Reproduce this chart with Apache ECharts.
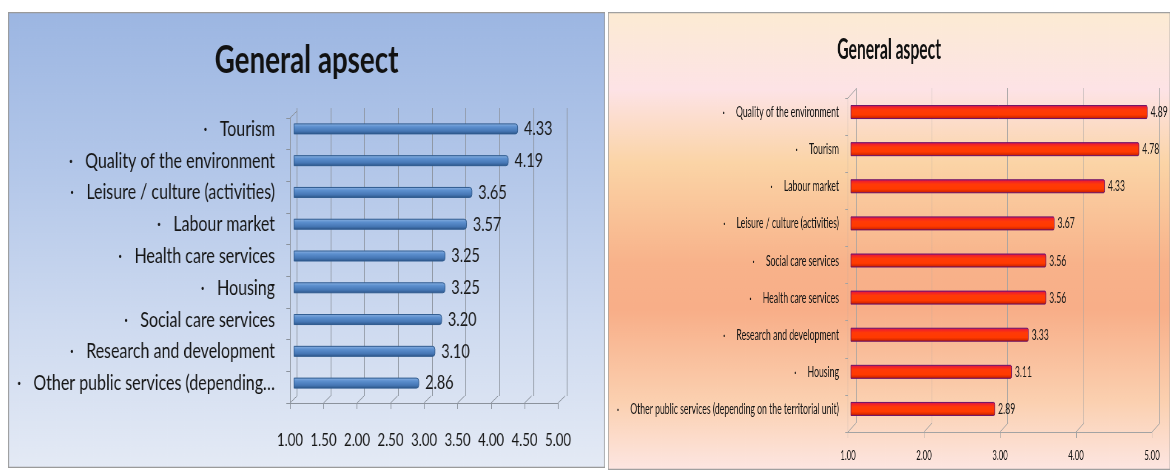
<!DOCTYPE html>
<html><head><meta charset="utf-8">
<script src="https://cdn.jsdelivr.net/npm/echarts@6/dist/echarts.min.js"></script>
<style>
html,body{margin:0;padding:0;background:#fff;width:1170px;height:470px;overflow:hidden;}
#left{position:absolute;left:8px;top:12px;width:807px;height:456px;transform:scaleX(0.74);transform-origin:0 0;}
#right{position:absolute;left:608px;top:12px;width:1004px;height:458px;transform:scaleX(0.56);transform-origin:0 0;}
</style></head><body>
<div id="left"></div><div id="right"></div>
<script>
const leftTitle = 'General apsect';
const leftCategories = ['Tourism','Quality of the environment','Leisure / culture (activities)','Labour market','Health care services','Housing','Social care services','Research and development','Other public services (depending\u2026'];
const leftValues = [4.33, 4.19, 3.65, 3.57, 3.25, 3.25, 3.20, 3.10, 2.86];
const leftTicks = [1, 1.5, 2, 2.5, 3, 3.5, 4, 4.5, 5];

const rightTitle = 'General aspect';
const rightCategories = ['Quality of the environment','Tourism','Labour market','Leisure / culture (activities)','Social care services','Health care services','Research and development','Housing','Other public services (depending on the territorial unit)'];
const rightValues = [4.89, 4.78, 4.33, 3.67, 3.56, 3.56, 3.33, 3.11, 2.89];
const rightTicks = [1, 2, 3, 4, 5];

const FONT = 'Lato';

function build(c) {
  const grids = [
    Object.assign({outerBoundsMode:'none', containLabel:false}, c.front),
    Object.assign({outerBoundsMode:'none', containLabel:false}, c.back),
    Object.assign({outerBoundsMode:'none', containLabel:false}, c.bars)
  ];
  const xAxis = [
    {gridIndex:0, type:'value', min:c.ticks[0], max:c.ticks[c.ticks.length-1], interval:c.interval,
     axisLine:{show:true, lineStyle:{color:c.gridColor, width:1}},
     axisTick:{show:true, length:6, lineStyle:{color:c.gridColor}},
     splitLine:{show:false},
     axisLabel:{show:true, margin:c.xMargin, color:'#151515', fontFamily:FONT, fontSize:c.xFont,
       formatter: v => v.toFixed(2)}},
    {gridIndex:1, type:'value', min:c.ticks[0], max:c.ticks[c.ticks.length-1], interval:c.interval,
     axisLine:{show:false}, axisTick:{show:false}, axisLabel:{show:false},
     splitLine:{show:true, showMinLine:true, showMaxLine:true, lineStyle:{color:c.gridColor, width:1}}},
    {gridIndex:2, type:'value', min:c.ticks[0], max:c.ticks[c.ticks.length-1], interval:c.interval,
     show:false}
  ];
  const yAxis = [
    {gridIndex:0, type:'category', inverse:true, data:c.categories,
     axisLine:{show:true, lineStyle:{color:c.gridColor, width:1}},
     axisTick:{show:true, length:5, alignWithLabel:false, lineStyle:{color:c.gridColor}},
     axisLabel:{show:false}, splitLine:{show:false}},
    {gridIndex:1, type:'category', inverse:true, data:c.categories, show:false},
    {gridIndex:2, type:'category', inverse:true, data:c.categories,
     axisLine:{show:false}, axisTick:{show:false}, splitLine:{show:false},
     axisLabel:{show:true, margin:c.catMargin, color:'#151515', fontFamily:FONT, fontSize:c.catFont,
       formatter: v => '\u00b7' + c.bulletGap + v}}
  ];
  return {
    animation:false,
    title:{text:c.title, left:'center', top:c.titleTop,
      textStyle:{fontFamily:FONT, fontWeight:'bold', fontSize:c.titleFont, color:'#111'}},
    graphic:{elements:[{type:'rect', z:-10, silent:true,
      shape:{x:0.5, y:0.5, width:c.W-1, height:c.H-1},
      style:{fill:new echarts.graphic.LinearGradient(0,0,0,1,c.bg), stroke:c.border, lineWidth:1.5}}]},
    grid:grids, xAxis:xAxis, yAxis:yAxis,
    series:[
      {type:'custom', xAxisIndex:0, yAxisIndex:0, silent:true, clip:false, z:1,
       data:c.ticks.map(v => [v, 0]),
       encode:{x:0, y:1},
       renderItem:function(params, api){
         const cs = params.coordSys;
         const x = api.coord([api.value(0), 0])[0];
         const yb = cs.y + cs.height;
         const st = {stroke:c.gridColor, lineWidth:1, fill:null};
         const ch = [{type:'line', shape:{x1:x, y1:yb, x2:x + c.dx, y2:yb + c.dy}, style:st}];
         if (params.dataIndex === 0) {
           ch.push({type:'line', shape:{x1:cs.x, y1:cs.y, x2:cs.x + c.dx, y2:cs.y + c.dy}, style:st});
         }
         return {type:'group', children:ch};
       }},
      {type:'bar', xAxisIndex:2, yAxisIndex:2, data:c.values, barWidth:c.barH, z:3,
       itemStyle:{color:new echarts.graphic.LinearGradient(0,0,0,1,c.barStops),
         borderColor:c.barBorder, borderWidth:1, borderRadius:[0,c.barR,c.barR,0]},
       label:{show:true, position:'right', distance:c.valDist, color:'#1a1a1a',
         fontFamily:FONT, fontSize:c.valFont, formatter: p => p.value.toFixed(2)}}
    ]
  };
}

const leftCfg = {
  W:807, H:456, title:leftTitle, titleTop:25, titleFont:37.5,
  categories:leftCategories, values:leftValues, ticks:leftTicks, interval:0.5,
  front:{left:381.1, top:106, width:362.2, height:285},
  back:{left:390.5, top:96, width:364.9, height:288},
  bars:{left:386.5, top:101, width:363.5, height:286},
  dx:9.46, dy:-7, gridColor:'#8b929c',
  catFont:21.6, catMargin:25.7, bulletGap:'   ',
  xFont:17.8, xMargin:28, valFont:19.5, valDist:8.1,
  barH:11, barR:3,
  barStops:[{offset:0,color:'#90b5e4'},{offset:0.3,color:'#5d90cf'},{offset:0.7,color:'#4677b5'},{offset:1,color:'#2b5385'}],
  barBorder:'#2f5b8f',
  border:'#9a9a9a',
  bg:[{offset:0,color:'#9cb6e2'},{offset:0.35,color:'#b3c7e9'},{offset:0.7,color:'#cfdbf0'},{offset:1,color:'#e4eaf5'}]
};

const rightCfg = {
  W:1004, H:458, title:rightTitle, titleTop:19, titleFont:28,
  categories:rightCategories, values:rightValues, ticks:rightTicks, interval:1,
  front:{left:428.6, top:86, width:542.9, height:334},
  back:{left:442.9, top:76, width:541.1, height:335},
  bars:{left:433.9, top:81.5, width:544.6, height:334},
  dx:14.3, dy:-9, gridColor:'#a3a3a3',
  catFont:15.5, catMargin:21.4, bulletGap:'     ',
  xFont:13.9, xMargin:17, valFont:15.5, valDist:5.4,
  barH:14, barR:2,
  barStops:[{offset:0,color:'#b0157e'},{offset:0.14,color:'#f0202a'},{offset:0.35,color:'#ff3a08'},{offset:0.7,color:'#ff3a00'},{offset:0.88,color:'#d82800'},{offset:1,color:'#8c1010'}],
  barBorder:'#6e1266',
  border:'#a0a0a0',
  bg:[{offset:0,color:'#fcebd3'},{offset:0.17,color:'#fde3e6'},{offset:0.33,color:'#fbd4a6'},{offset:0.55,color:'#f8b28a'},{offset:0.65,color:'#f8ae88'},{offset:0.85,color:'#fbd0b0'},{offset:1,color:'#fde6e2'}]
};

const chartL = echarts.init(document.getElementById('left'), null, {renderer:'canvas'});
chartL.setOption(build(leftCfg));
const chartR = echarts.init(document.getElementById('right'), null, {renderer:'canvas'});
chartR.setOption(build(rightCfg));
</script>
</body></html>
